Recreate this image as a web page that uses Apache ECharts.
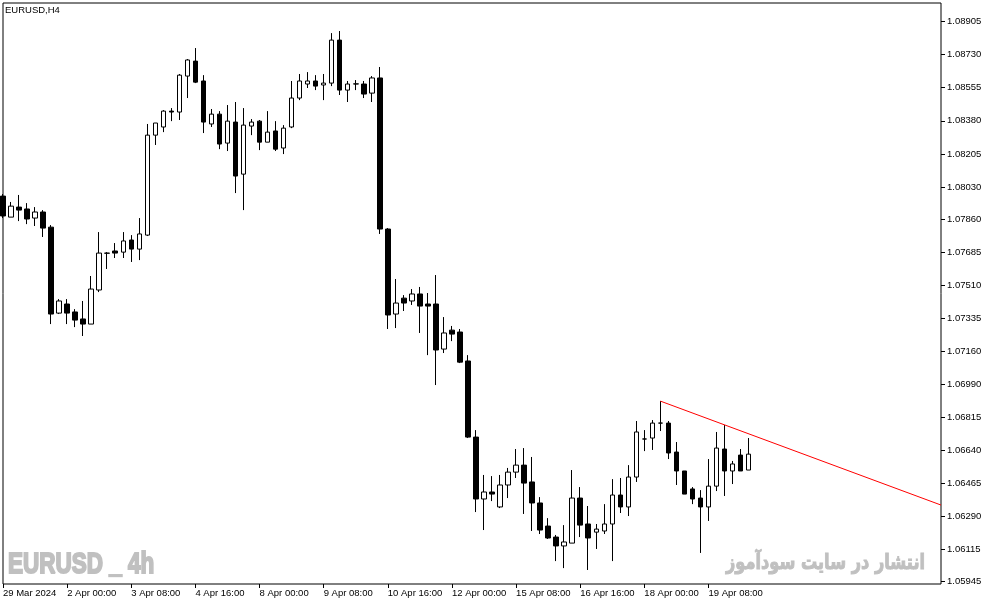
<!DOCTYPE html>
<html lang="en">
<head>
  <meta charset="UTF-8">
  <title>EURUSD H4</title>
  <style>
    html, body {
      height: 100%;
      width: 100%;
      margin: 0;
      padding: 0;
      background: #ffffff;
    }
  </style>
  <script src="https://cdn.jsdelivr.net/npm/echarts@6/dist/echarts.min.js"></script>
</head>
<body>
<div id="main" style="width: 987px; height: 605px;"></div>

<script>
  // H4 candles, left to right
  var opens = [
    1.07982, 1.07871, 1.07924, 1.07914, 1.07866, 1.07898, 1.07818, 1.07364, 1.07412, 1.07370,
    1.07333, 1.07306, 1.07486, 1.07680, 1.07692, 1.07686, 1.07750, 1.07702, 1.07776, 1.08304,
    1.08347, 1.08431, 1.08426, 1.08616, 1.08695, 1.08590, 1.08363, 1.08415, 1.08262, 1.08373,
    1.08098, 1.08352, 1.08378, 1.08267, 1.08326, 1.08236, 1.08347, 1.08500, 1.08574, 1.08590,
    1.08569, 1.08579, 1.08806, 1.08542, 1.08574, 1.08574, 1.08526, 1.08606, 1.07808, 1.07359,
    1.07443, 1.07428, 1.07465, 1.07412, 1.07412, 1.07174, 1.07274, 1.07264, 1.07111, 1.06709,
    1.06382, 1.06419, 1.06340, 1.06456, 1.06524, 1.06561, 1.06472, 1.06361, 1.06239, 1.06181,
    1.06134, 1.06149, 1.06387, 1.06250, 1.06207, 1.06213, 1.06250, 1.06403, 1.06340, 1.06498,
    1.06699, 1.06704, 1.06783, 1.06783, 1.06630, 1.06530, 1.06435, 1.06387, 1.06340, 1.06450,
    1.06646, 1.06530, 1.06614, 1.06535
  ];
  var closes = [
    1.07877, 1.07929, 1.07908, 1.07861, 1.07898, 1.07813, 1.07359, 1.07428, 1.07364, 1.07327,
    1.07306, 1.07491, 1.07681, 1.07681, 1.07681, 1.07745, 1.07702, 1.07782, 1.08304, 1.08368,
    1.08431, 1.08426, 1.08621, 1.08701, 1.08584, 1.08373, 1.08415, 1.08257, 1.08378, 1.08088,
    1.08357, 1.08373, 1.08267, 1.08320, 1.08230, 1.08341, 1.08500, 1.08590, 1.08590, 1.08563,
    1.08579, 1.08806, 1.08542, 1.08574, 1.08575, 1.08521, 1.08606, 1.07808, 1.07354, 1.07417,
    1.07417, 1.07465, 1.07401, 1.07401, 1.07169, 1.07259, 1.07253, 1.07105, 1.06709, 1.06382,
    1.06419, 1.06408, 1.06456, 1.06524, 1.06561, 1.06466, 1.06361, 1.06218, 1.06176, 1.06134,
    1.06155, 1.06387, 1.06244, 1.06176, 1.06223, 1.06250, 1.06403, 1.06340, 1.06498, 1.06736,
    1.06699, 1.06783, 1.06783, 1.06625, 1.06530, 1.06408, 1.06382, 1.06340, 1.06450, 1.06651,
    1.06530, 1.06567, 1.06530, 1.06619
  ];
  var lows = [
    1.07866, 1.07871, 1.07850, 1.07834, 1.07824, 1.07766, 1.07306, 1.07359, 1.07306, 1.07290,
    1.07243, 1.07306, 1.07475, 1.07597, 1.07655, 1.07655, 1.07634, 1.07644, 1.07771, 1.08252,
    1.08320, 1.08378, 1.08384, 1.08500, 1.08579, 1.08315, 1.08347, 1.08230, 1.08220, 1.07998,
    1.07908, 1.08304, 1.08225, 1.08267, 1.08220, 1.08204, 1.08341, 1.08489, 1.08553, 1.08542,
    1.08489, 1.08563, 1.08516, 1.08479, 1.08542, 1.08500, 1.08479, 1.07782, 1.07280, 1.07285,
    1.07375, 1.07407, 1.07259, 1.07142, 1.06984, 1.07153, 1.07216, 1.07100, 1.06704, 1.06313,
    1.06218, 1.06371, 1.06334, 1.06387, 1.06493, 1.06303, 1.06213, 1.06197, 1.06171, 1.06054,
    1.06017, 1.06149, 1.06181, 1.06007, 1.06118, 1.06197, 1.06054, 1.06308, 1.06292, 1.06472,
    1.06635, 1.06641, 1.06741, 1.06593, 1.06456, 1.06408, 1.06355, 1.06097, 1.06266, 1.06424,
    1.06398, 1.06461, 1.06530, 1.06535
  ];
  var highs = [
    1.07993, 1.07951, 1.07988, 1.07945, 1.07924, 1.07908, 1.07829, 1.07438, 1.07438, 1.07385,
    1.07428, 1.07560, 1.07792, 1.07686, 1.07734, 1.07792, 1.07776, 1.07866, 1.08363, 1.08368,
    1.08436, 1.08447, 1.08627, 1.08706, 1.08764, 1.08621, 1.08442, 1.08431, 1.08463, 1.08479,
    1.08447, 1.08389, 1.08384, 1.08431, 1.08378, 1.08357, 1.08590, 1.08627, 1.08637, 1.08621,
    1.08627, 1.08843, 1.08854, 1.08590, 1.08595, 1.08590, 1.08616, 1.08664, 1.07813, 1.07544,
    1.07459, 1.07491, 1.07502, 1.07470, 1.07565, 1.07343, 1.07296, 1.07280, 1.07142, 1.06746,
    1.06509, 1.06503, 1.06509, 1.06546, 1.06646, 1.06651, 1.06604, 1.06392, 1.06281, 1.06192,
    1.06244, 1.06535, 1.06445, 1.06345, 1.06250, 1.06355, 1.06487, 1.06493, 1.06561, 1.06794,
    1.06746, 1.06799, 1.06899, 1.06794, 1.06683, 1.06530, 1.06445, 1.06429, 1.06593, 1.06736,
    1.06773, 1.06583, 1.06646, 1.06704
  ];

  // time labels, one every 8 bars
  var timeLabels = [
    '29 Mar 2024', '2 Apr 00:00', '3 Apr 08:00', '4 Apr 16:00', '8 Apr 00:00', '9 Apr 08:00',
    '10 Apr 16:00', '12 Apr 00:00', '15 Apr 08:00', '16 Apr 16:00', '18 Apr 00:00', '19 Apr 08:00'
  ];
  var priceLabels = [
    1.08905, 1.08730, 1.08555, 1.08380, 1.08205, 1.08030, 1.07860, 1.07685, 1.07510,
    1.07335, 1.07160, 1.06990, 1.06815, 1.06640, 1.06465, 1.06290, 1.06115, 1.05945
  ];
  // trend line: [bar index, price]
  var trendLine = [[82, 1.06899], [117, 1.06350]];

  var slotCount = 118;
  var categories = [];
  for (var i = 0; i < slotCount; i++) {
    categories.push(i % 8 === 0 && i / 8 < timeLabels.length ? timeLabels[i / 8] : '');
  }
  var candles = opens.map(function (o, k) {
    return [o, closes[k], lows[k], highs[k]];
  });
  function isLabeled(index) {
    return categories[index] !== '';
  }

  var font = '"Liberation Sans", Arial, sans-serif';
  var chart = echarts.init(document.getElementById('main'));
  chart.setOption({
    animation: false,
    backgroundColor: '#ffffff',
    textStyle: { fontFamily: font },
    grid: {
      left: 2, top: 3, right: 46, bottom: 21,
      show: true, borderColor: '#000000', borderWidth: 1,
      backgroundColor: 'transparent'
    },
    xAxis: {
      type: 'category',
      data: categories,
      boundaryGap: false,
      axisLine: { show: false },
      axisTick: { show: true, interval: isLabeled, length: 4, lineStyle: { color: '#000' } },
      axisLabel: {
        interval: isLabeled, align: 'left', margin: 4,
        color: '#000', fontSize: 9.5, fontFamily: font
      },
      splitLine: { show: false }
    },
    yAxis: {
      type: 'value',
      position: 'right',
      min: 1.05933,
      max: 1.09002,
      axisLine: { show: false },
      axisTick: { show: true, customValues: priceLabels, length: 4, lineStyle: { color: '#000' } },
      axisLabel: {
        customValues: priceLabels, margin: 6, color: '#000', fontSize: 9.5, fontFamily: font,
        formatter: function (v) { return v.toFixed(5); }
      },
      splitLine: { show: false }
    },
    graphic: [
      {
        type: 'text', left: 5, top: 5,
        style: { text: 'EURUSD,H4', fill: '#000', font: '9.5px ' + font }
      },
      {
        type: 'text', x: 8, y: 565, scaleX: 0.75,
        style: {
          text: 'EURUSD _ 4h', fill: '#c0c0c0', font: 'bold 30px ' + font,
          stroke: '#c0c0c0', lineWidth: 2,
          verticalAlign: 'middle', align: 'left'
        }
      },
      {
        type: 'text', x: 925, y: 564, scaleX: 0.77,
        style: {
          text: 'انتشار در سایت سودآموز', fill: '#c0c0c0', font: 'bold 21px "DejaVu Sans", sans-serif',
          stroke: '#c0c0c0', lineWidth: 1,
          verticalAlign: 'middle', align: 'right'
        }
      }
    ],
    series: [
      {
        type: 'candlestick',
        data: candles,
        barWidth: 5,
        itemStyle: {
          color: '#ffffff',
          color0: '#000000',
          borderColor: '#000000',
          borderColor0: '#000000',
          borderWidth: 1
        }
      },
      {
        type: 'line',
        data: trendLine,
        showSymbol: false,
        lineStyle: { color: '#ff0000', width: 1 },
        z: 3
      }
    ]
  });
</script>
</body>
</html>
